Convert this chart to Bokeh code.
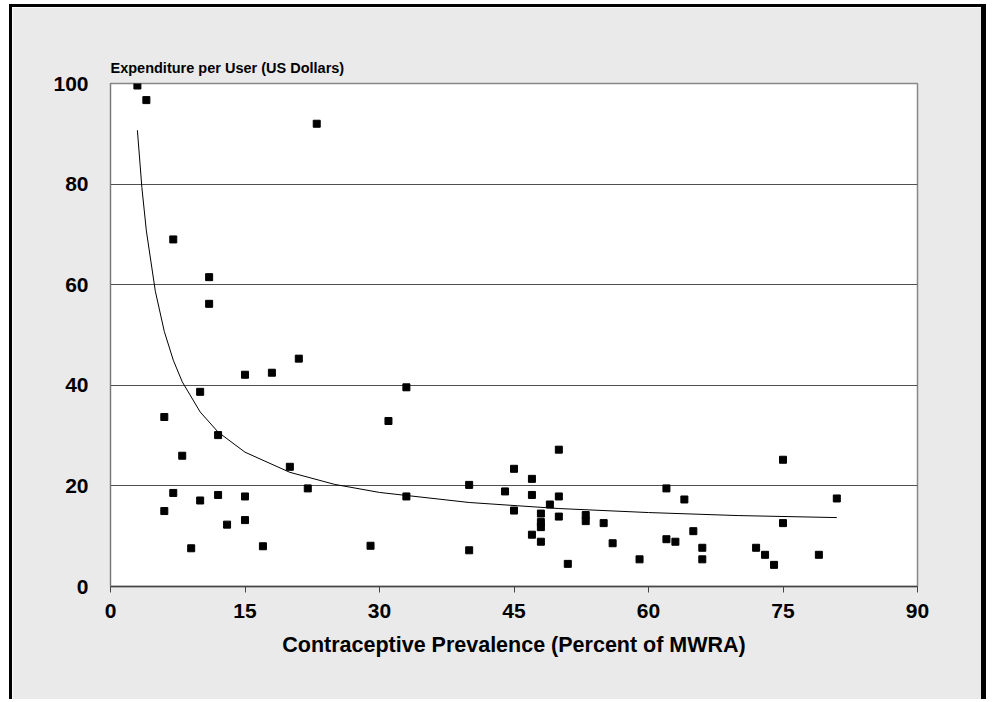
from bokeh.plotting import figure
from bokeh.models import FixedTicker, Range1d, Title
from bokeh.embed import file_html
from bokeh.resources import INLINE

# Scatter data: contraceptive prevalence (%) vs expenditure per user (US$)
prevalence = [3, 4, 23, 7, 11, 11, 21, 15, 18, 10, 6, 12, 8, 20, 22, 7, 10, 12, 15, 6,
              13, 15, 9, 17, 33, 31, 50, 45, 47, 40, 44, 47, 50, 33, 49, 45, 48, 50, 53, 53,
              48, 48, 55, 47, 48, 56, 29, 40, 51, 75, 62, 64, 81, 75, 65, 62, 63, 66, 72, 73,
              79, 59, 66, 74]
expenditure = [99.6, 96.7, 92.0, 69.0, 61.5, 56.2, 45.3, 42.1, 42.5, 38.7, 33.7, 30.1, 26.0, 23.8, 19.5, 18.6, 17.1, 18.2, 17.9, 15.0,
               12.3, 13.2, 7.6, 8.0, 39.6, 32.9, 27.2, 23.4, 21.4, 20.2, 18.9, 18.2, 17.9, 17.9, 16.3, 15.1, 14.5, 13.9, 14.2, 13.0,
               12.8, 11.8, 12.6, 10.3, 8.9, 8.6, 8.1, 7.2, 4.5, 25.2, 19.5, 17.3, 17.5, 12.6, 11.0, 9.4, 8.9, 7.7, 7.7, 6.3,
               6.3, 5.4, 5.4, 4.3]

# Trend curve
trend_x = [3, 3.5, 4, 5, 6, 7, 8, 10, 12, 15, 20, 25, 30, 40, 50, 60, 70, 81]
trend_y = [90.7, 79.3, 70.7, 58.7, 50.7, 45.0, 40.7, 34.7, 30.7, 26.7, 22.7, 20.3, 18.7, 16.7, 15.5, 14.7, 14.1, 13.7]

x_ticks = [0, 15, 30, 45, 60, 75, 90]
y_ticks = [0, 20, 40, 60, 80, 100]

FONT = "Liberation Sans"
BG = "#eaeaea"

p = figure(width=977, height=695, output_backend="svg", toolbar_location=None,
           x_range=Range1d(0, 90), y_range=Range1d(0, 100))
p.styles = {"margin-left": "9px", "margin-top": "4px",
            "border-left": "3px solid black", "border-top": "3px solid black",
            "border-right": "5px solid black"}
p.min_border_left = 98
p.min_border_right = 72
p.min_border_top = 76
p.min_border_bottom = 116
p.background_fill_color = "white"
p.border_fill_color = BG
p.outline_line_color = "#888888"
p.outline_line_width = 1.5

p.title = Title(text="Expenditure per User (US Dollars)", align="left", offset=0,
                text_font=FONT, text_font_size="14.5px", text_font_style="bold",
                text_color="black", standoff=16)

p.xaxis.ticker = FixedTicker(ticks=x_ticks)
p.yaxis.ticker = FixedTicker(ticks=y_ticks)
p.xgrid.visible = False
p.ygrid.ticker = FixedTicker(ticks=[20, 40, 60, 80])
p.ygrid.grid_line_color = "#505050"
p.ygrid.grid_line_width = 1

for ax in (p.xaxis, p.yaxis):
    ax.major_label_text_font = FONT
    ax.major_label_text_font_size = "21px"
    ax.major_label_text_font_style = "bold"
    ax.major_label_text_color = "black"
    ax.minor_tick_line_color = None
    ax.major_tick_in = 0

p.xaxis.axis_line_color = "#444444"
p.xaxis.axis_line_width = 1.5
p.xaxis.major_tick_line_color = "#444444"
p.xaxis.major_tick_out = 6
p.xaxis.major_label_standoff = 11
p.xaxis.axis_label = "Contraceptive Prevalence (Percent of MWRA)"
p.xaxis.axis_label_text_font = FONT
p.xaxis.axis_label_text_font_size = "21.5px"
p.xaxis.axis_label_text_font_style = "bold"
p.xaxis.axis_label_text_color = "black"
p.xaxis.axis_label_standoff = 12

p.yaxis.axis_line_color = "#777777"
p.yaxis.major_tick_line_color = None
p.yaxis.major_tick_out = 0
p.yaxis.major_label_standoff = 22

p.line(trend_x, trend_y, line_color="black", line_width=1)
p.scatter(prevalence, expenditure, marker="square", size=7,
          fill_color="black", line_color="black")

open("out.html", "w").write(file_html(p, INLINE))
